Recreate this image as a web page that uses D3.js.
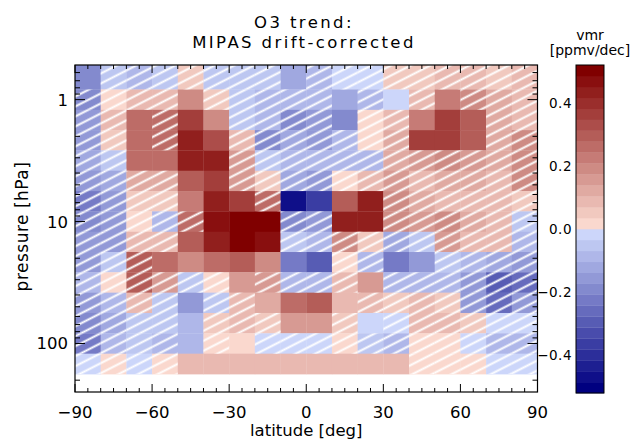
<!DOCTYPE html>
<html><head><meta charset="utf-8">
<script src="https://cdn.jsdelivr.net/npm/d3@7"></script>
<style>body{margin:0;background:#fff}svg{display:block}text{font-family:"DejaVu Sans",sans-serif;fill:#000}</style>
</head><body><svg id="c" width="634" height="441"></svg>
<script>
// ---- data ----
const latitudes = [-85,-75,-65,-55,-45,-35,-25,-15,-5,5,15,25,35,45,55,65,75,85];
const pressures = [0.681,1,1.47,2.15,3.16,4.64,6.81,10,14.7,21.5,31.6,46.4,68.1,100,147];
// O3 trend [ppmv/dec], one row per pressure level (top to bottom)
const trend = [
 [-0.20,-0.05,-0.07,-0.05, 0.05,-0.05,-0.05,-0.05,-0.13,-0.10,-0.03,-0.03, 0.05, 0.05, 0.10, 0.10, 0.05, 0.07],
 [-0.18, 0.03, 0.08, 0.08, 0.20, 0.05,-0.05,-0.08,-0.10,-0.08,-0.12,-0.10,-0.03, 0.10, 0.22, 0.20, 0.12, 0.10],
 [-0.15, 0.08, 0.25, 0.25, 0.35, 0.20,-0.05,-0.07,-0.20,-0.17,-0.20, 0.03, 0.10, 0.22, 0.38, 0.30, 0.12, 0.10],
 [-0.15, 0.05, 0.25, 0.25, 0.45, 0.33, 0.08,-0.20,-0.12,-0.15,-0.08, 0.03, 0.12, 0.38, 0.38, 0.30, 0.12, 0.18],
 [-0.12,-0.05, 0.25, 0.25, 0.45, 0.45, 0.15,-0.05,-0.10,-0.10,-0.08,-0.10, 0.12, 0.15, 0.18, 0.15, 0.12, 0.20],
 [-0.15,-0.12, 0.12, 0.12, 0.30, 0.38, 0.15, 0.05,-0.12,-0.15, 0.03, 0.10, 0.15, 0.08, 0.12, 0.12, 0.10, 0.18],
 [-0.22,-0.15, 0.05, 0.05, 0.22, 0.42, 0.38, 0.25,-0.47,-0.35, 0.30, 0.42, 0.20, 0.12, 0.10, 0.10, 0.08, 0.05],
 [-0.20,-0.15, 0.03,-0.07, 0.25, 0.47, 0.50, 0.50,-0.20,-0.15, 0.42, 0.42, 0.18, 0.15, 0.18, 0.12, 0.08,-0.05],
 [-0.15,-0.15, 0.10, 0.08, 0.28, 0.45, 0.50, 0.47,-0.05,-0.10, 0.18, 0.06,-0.12,-0.05, 0.15, 0.10, 0.07,-0.07],
 [-0.15,-0.05, 0.30, 0.25, 0.20, 0.25, 0.30, 0.20,-0.22,-0.30, 0.03,-0.07,-0.22,-0.17,-0.05,-0.08,-0.12,-0.15],
 [-0.10, 0.03, 0.30, 0.15,-0.05, 0.03, 0.15, 0.15,-0.07,-0.08, 0.07, 0.15,-0.08,-0.10,-0.07,-0.15,-0.30,-0.25],
 [-0.17,-0.07, 0.10,-0.05,-0.15,-0.05, 0.10, 0.12, 0.25, 0.28, 0.10, 0.10, 0.05, 0.07, 0.05,-0.15,-0.25,-0.15],
 [-0.18,-0.12,-0.05,-0.05,-0.10, 0.05, 0.07, 0.05, 0.15, 0.15, 0.05,-0.03,-0.03, 0.08, 0.10, 0.05,-0.03,-0.03],
 [-0.22,-0.10,-0.05,-0.07,-0.08, 0.03, 0.03,-0.03,-0.03,-0.03, 0.03,-0.05,-0.08, 0.03, 0.03,-0.03,-0.07,-0.08],
 [-0.03, 0.03,-0.03, 0.03, 0.07, 0.07, 0.07, 0.07, 0.07, 0.07, 0.07, 0.07, 0.07, 0.03, 0.03, 0.03,-0.03,-0.03]
];
// 1 = not significant (hatched)
const hatched = [
 [0,1,1,1,1,1,1,1,0,1,1,1,1,1,1,1,1,1],
 [1,1,1,1,0,1,1,1,1,1,0,1,0,1,0,1,1,1],
 [1,1,0,1,0,0,1,1,1,1,0,1,1,0,0,0,1,1],
 [1,1,0,1,0,0,1,1,1,1,1,1,1,0,0,0,1,1],
 [1,1,0,0,0,0,1,1,1,1,1,1,1,1,1,1,1,1],
 [1,1,1,1,0,0,1,1,1,1,1,1,1,1,1,1,1,1],
 [1,1,1,1,0,0,0,1,0,0,0,0,1,1,1,1,1,1],
 [1,1,1,1,1,0,0,0,1,1,0,0,1,1,1,1,1,1],
 [1,1,1,1,0,0,0,0,1,1,1,1,1,1,1,1,1,1],
 [1,1,1,0,0,0,0,0,0,0,1,1,0,0,1,1,1,1],
 [1,1,1,1,1,1,0,1,1,1,1,0,1,1,1,1,1,1],
 [1,1,1,1,0,1,1,0,0,0,0,1,1,1,1,1,1,1],
 [1,1,1,1,0,1,1,1,0,0,1,0,1,1,1,1,1,1],
 [1,1,1,1,0,1,0,1,1,1,1,1,1,1,1,1,1,1],
 [1,1,1,1,0,0,0,0,0,0,0,0,0,1,1,1,1,1]
];
const xTicks = [-90,-60,-30,0,30,60,90];
const yTicks = [1,10,100];
const cbTicks = [-0.4,-0.2,0.0,0.2,0.4];
const cbMax = 0.52, cbSteps = 15;

// ---- drawing ----
const svg = d3.select("#c");
const x = d3.scaleLinear().domain([-90,90]).range([75,537.5]);
const y = d3.scaleLog().domain([0.52,250]).range([65,392]);
const lightPos="#fad8ce", darkPos="#800000", lightNeg="#ccd6fa", darkNeg="#000080";
function color(v){
  const j = Math.min(cbSteps-1, Math.floor(Math.abs(v)/cbMax*cbSteps));
  const t = j/(cbSteps-1);
  return v>=0 ? d3.interpolateRgb(lightPos,darkPos)(t) : d3.interpolateRgb(lightNeg,darkNeg)(t);
}
const defs = svg.append("defs");
const pat = defs.append("pattern").attr("id","hatch").attr("patternUnits","userSpaceOnUse")
  .attr("width",40).attr("height",8.9).attr("patternTransform","rotate(-27)");
pat.append("line").attr("x1",0).attr("x2",40).attr("y1",4.45).attr("y2",4.45)
  .attr("stroke","#fff").attr("stroke-width",2);
defs.append("clipPath").attr("id","pc").append("rect")
  .attr("x",x(-90)).attr("y",y.range()[0]).attr("width",x(90)-x(-90)).attr("height",y.range()[1]-y.range()[0]);

const dLat = latitudes[1]-latitudes[0];
const cells = [];
pressures.forEach((p,i)=>{
  const pTop = i===0 ? y.domain()[0] : Math.sqrt(pressures[i-1]*p);
  const pBot = i===pressures.length-1 ? p*Math.sqrt(p/pressures[i-1]) : Math.sqrt(p*pressures[i+1]);
  latitudes.forEach((lat,j)=>{
    cells.push({x0:x(lat-dLat/2), x1:x(lat+dLat/2), y0:y(pTop), y1:y(pBot), v:trend[i][j], h:hatched[i][j]});
  });
});
const g = svg.append("g").attr("clip-path","url(#pc)");
g.selectAll("rect.c").data(cells).join("rect").attr("class","c")
  .attr("x",d=>d.x0).attr("y",d=>d.y0).attr("width",d=>d.x1-d.x0+0.3).attr("height",d=>d.y1-d.y0+0.3)
  .attr("fill",d=>color(d.v));
g.selectAll("rect.h").data(cells.filter(d=>d.h)).join("rect").attr("class","h")
  .attr("x",d=>d.x0).attr("y",d=>d.y0).attr("width",d=>d.x1-d.x0).attr("height",d=>d.y1-d.y0)
  .attr("fill","url(#hatch)");

// frame
const X0=x(-90), X1=x(90), Y0=y.range()[0], Y1=y.range()[1];
svg.append("rect").attr("x",X0).attr("y",Y0).attr("width",X1-X0).attr("height",Y1-Y0)
  .attr("fill","none").attr("stroke","#000").attr("stroke-width",1.2);
// x ticks
const tk = svg.append("g").attr("stroke","#000").attr("stroke-width",1);
d3.range(-90,91,5).forEach(v=>{
  const L = xTicks.includes(v)?8:4;
  tk.append("line").attr("x1",x(v)).attr("x2",x(v)).attr("y1",Y1).attr("y2",Y1-L);
  tk.append("line").attr("x1",x(v)).attr("x2",x(v)).attr("y1",Y0).attr("y2",Y0+L);
});
// y ticks
const yMinor=[];
[0.1,1,10,100].forEach(dec=>{for(let k=1;k<10;k++){const v=dec*k; if(v>=y.domain()[0]&&v<=y.domain()[1]) yMinor.push(v);}});
yMinor.forEach(v=>{
  const L = yTicks.includes(v)?10:5;
  tk.append("line").attr("x1",X0).attr("x2",X0+L).attr("y1",y(v)).attr("y2",y(v));
  tk.append("line").attr("x1",X1).attr("x2",X1-L).attr("y1",y(v)).attr("y2",y(v));
});
const fmt = v => (v<0?"\u2212":"")+Math.abs(v);
svg.append("g").selectAll("text").data(xTicks).join("text")
  .attr("x",d=>x(d)).attr("y",418).attr("text-anchor","middle").attr("font-size",16.5).text(fmt);
svg.append("g").selectAll("text").data(yTicks).join("text")
  .attr("x",68).attr("y",d=>y(d)+6).attr("text-anchor","end").attr("font-size",16.5).text(d=>d);
svg.append("text").attr("x",(X0+X1)/2).attr("y",436).attr("text-anchor","middle").attr("font-size",16.5).text("latitude [deg]");
svg.append("text").attr("transform",`translate(28,${(Y0+Y1)/2-2}) rotate(-90)`).attr("text-anchor","middle").attr("font-size",17).attr("letter-spacing",0.5).text("pressure [hPa]");
svg.append("text").attr("x",304).attr("y",28).attr("text-anchor","middle").attr("font-size",16.5).attr("letter-spacing",2.4).text("O3 trend:");
svg.append("text").attr("x",304).attr("y",48).attr("text-anchor","middle").attr("font-size",16.5).attr("letter-spacing",2.4).text("MIPAS drift-corrected");

// colorbar
const cb = d3.scaleLinear().domain([-cbMax,cbMax]).range([393,65]);
const bands = d3.range(-cbSteps,cbSteps).map(k=>({a:k*cbMax/cbSteps,b:(k+1)*cbMax/cbSteps}));
const CX0=576, CX1=604;
svg.append("g").selectAll("rect").data(bands).join("rect")
  .attr("x",CX0).attr("width",CX1-CX0).attr("y",d=>cb(d.b)).attr("height",d=>cb(d.a)-cb(d.b)+0.3)
  .attr("fill",d=>color((d.a+d.b)/2));
svg.append("rect").attr("x",CX0).attr("y",65).attr("width",CX1-CX0).attr("height",393-65)
  .attr("fill","none").attr("stroke","#000").attr("stroke-width",1);
svg.append("g").selectAll("text").data(cbTicks).join("text")
  .attr("x",572).attr("y",d=>cb(d)+5).attr("text-anchor","end").attr("font-size",13.5).attr("letter-spacing",0.5)
  .text(d=>(d<0?"\u2212":"")+Math.abs(d).toFixed(1));
svg.append("text").attr("x",590).attr("y",40).attr("text-anchor","middle").attr("font-size",14).text("vmr");
svg.append("text").attr("x",590).attr("y",55).attr("text-anchor","middle").attr("font-size",14).text("[ppmv/dec]");
</script></body></html>
